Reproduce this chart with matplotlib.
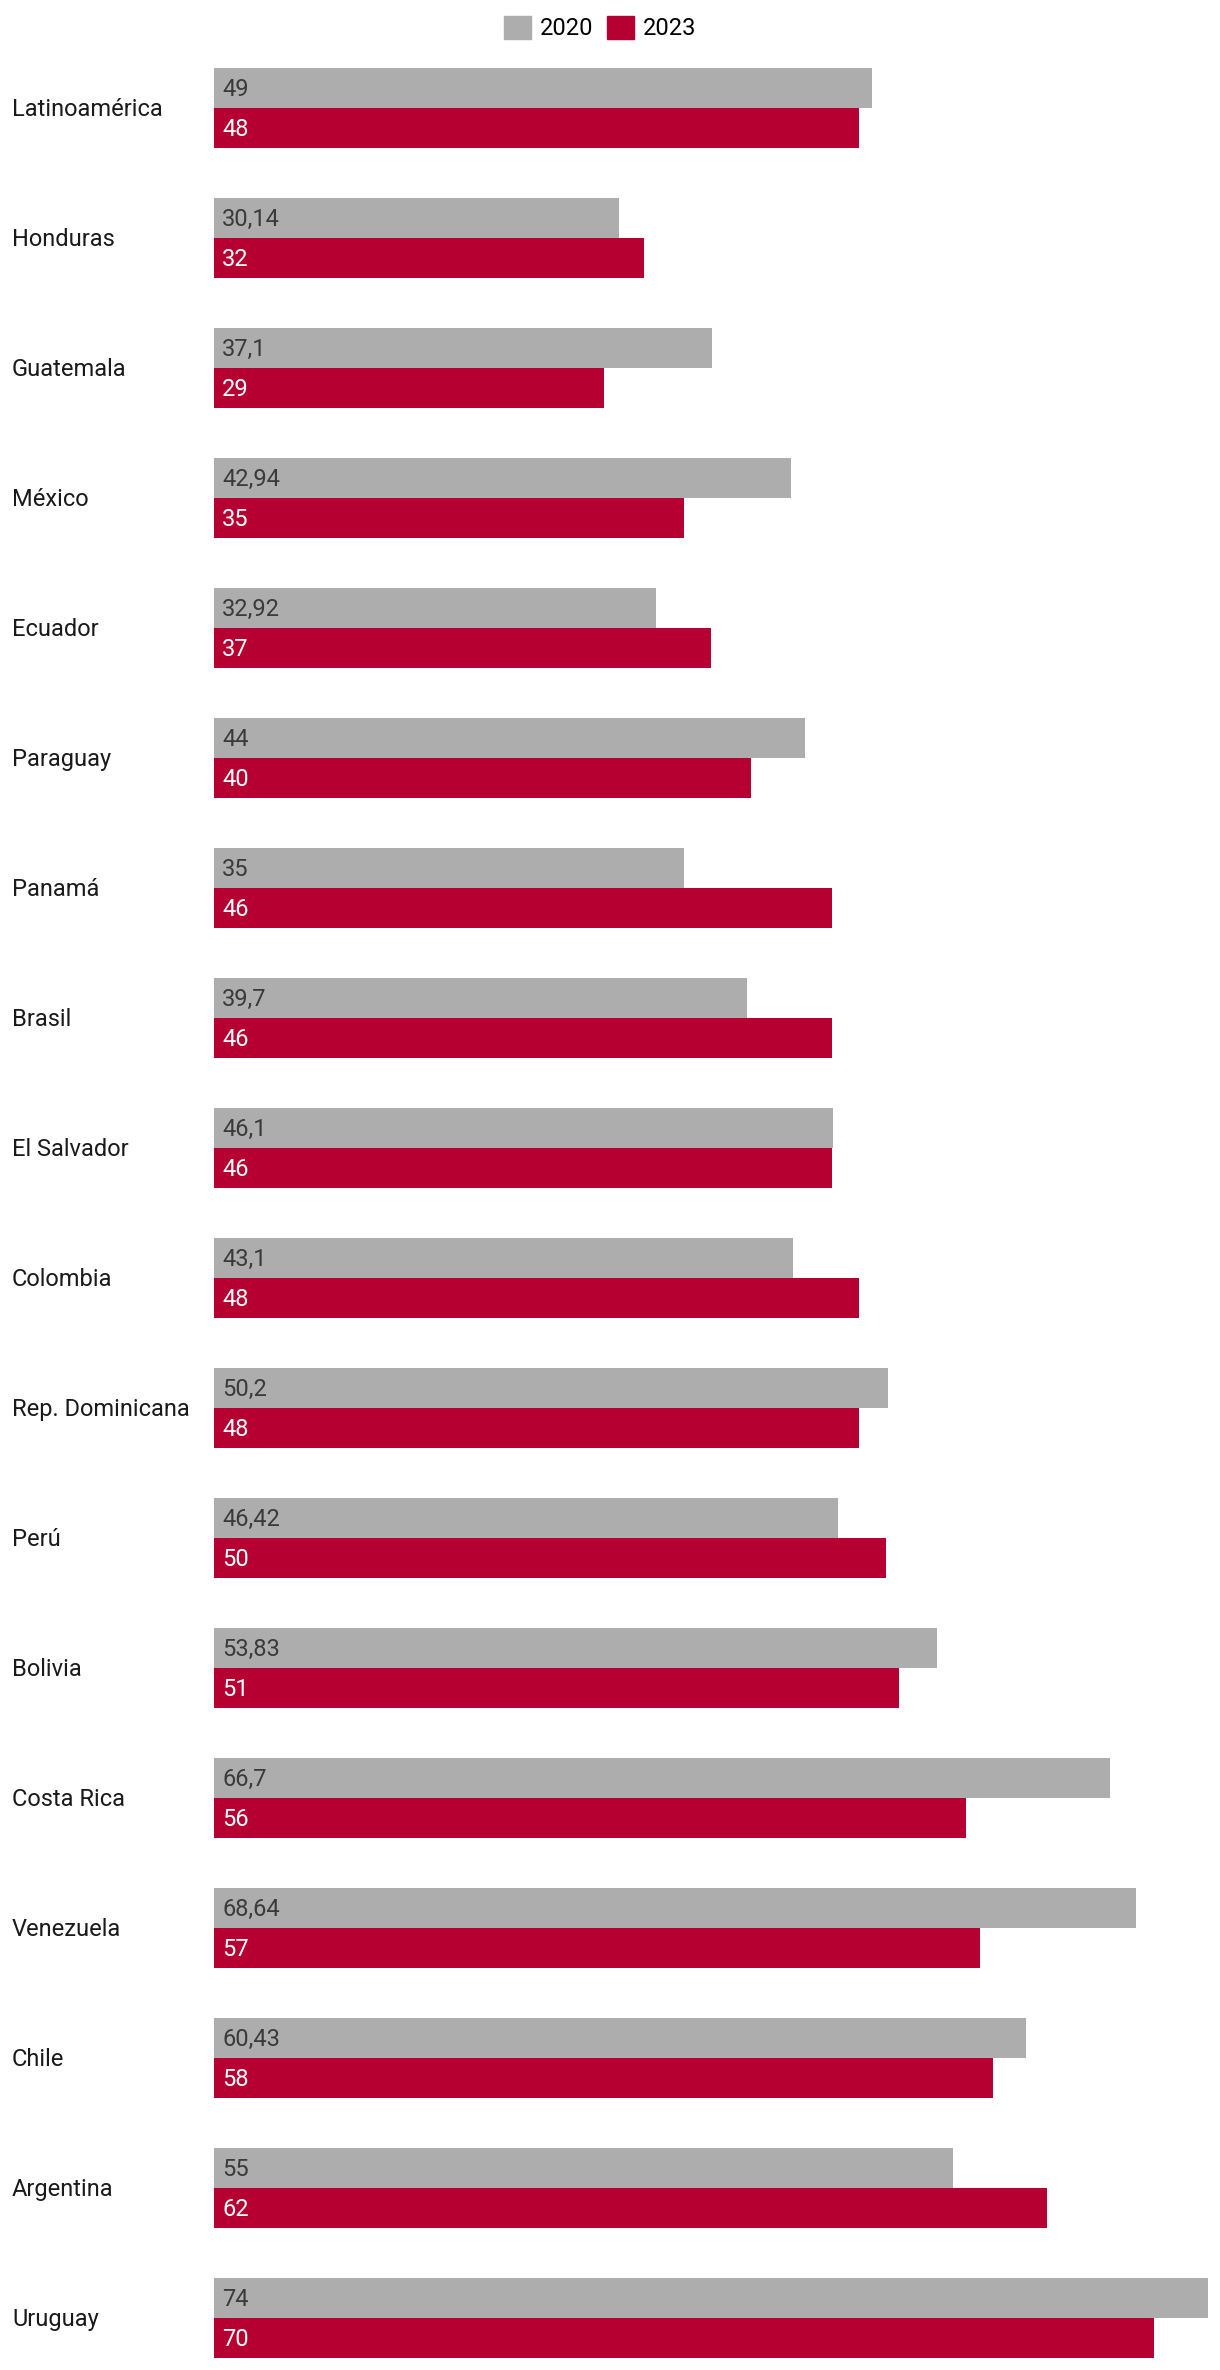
#!/usr/bin/env python3

import numpy as np
import matplotlib
matplotlib.use("Agg")
import matplotlib.pyplot as plt
from matplotlib.patches import Patch

# data.
countries = ["Latinoamérica", "Honduras", "Guatemala", "México", "Ecuador", "Paraguay",
             "Panamá", "Brasil", "El Salvador", "Colombia", "Rep. Dominicana", "Perú",
             "Bolivia", "Costa Rica", "Venezuela", "Chile", "Argentina", "Uruguay"]
vals_2020 = [49, 30.14, 37.1, 42.94, 32.92, 44, 35, 39.7, 46.1, 43.1, 50.2, 46.42,
             53.83, 66.7, 68.64, 60.43, 55, 74]
vals_2023 = [48, 32, 29, 35, 37, 40, 46, 46, 46, 48, 48, 50, 51, 56, 57, 58, 62, 70]
series_names = ["2020", "2023"]

GRAY = "#adadad"
RED = "#b50031"

plt.rcParams["font.family"] = ["Roboto", "DejaVu Sans"]

W, H = 1220, 2370
fig = plt.figure(figsize=(W / 100, H / 100), dpi=100)
# axes placed in pixel units of the output image.
left_px, right_px, top_px = 214, 1208, 43
ax = fig.add_axes([left_px / W, 0, (right_px - left_px) / W, 1 - top_px / H])

row_px = 130
bar_h = 40 / row_px
y = np.arange(len(countries))
xmax = 74
dy = 1.5 / row_px  # nudge text down a little

ax.barh(y - bar_h / 2, vals_2020, height=bar_h, color=GRAY, linewidth=0)
ax.barh(y + bar_h / 2, vals_2023, height=bar_h, color=RED, linewidth=0)

# value labels inside the bars.
def fmt(v):
    s = f"{v:g}"
    return s.replace(".", ",")

px = xmax / (right_px - left_px)
for i in range(len(countries)):
    ax.text(8 * px, y[i] - bar_h / 2 + dy, fmt(vals_2020[i]), va="center", ha="left",
            fontsize=17, color="#3a3a3a")
    ax.text(8 * px, y[i] + bar_h / 2 + dy, fmt(vals_2023[i]), va="center", ha="left",
            fontsize=17, color="white")
    # category labels at the left edge of the figure.
    ax.text(-(left_px - 12) * px, y[i] + dy, countries[i],
            va="center", ha="left", fontsize=17, color="#1a1a1a", clip_on=False)

ax.set_xlim(0, xmax)
ax.set_ylim(-0.5 + (H - top_px) / row_px, -0.5)
ax.axis("off")

# legend on top.
handles = [Patch(color=GRAY, label=series_names[0]), Patch(color=RED, label=series_names[1])]
fig.legend(handles=handles, loc="center", bbox_to_anchor=(600 / W, 1 - 28 / H), ncol=2,
           frameon=False, fontsize=17, handlelength=1.15, handleheight=1.15,
           handletextpad=0.35, columnspacing=0.6, borderaxespad=0)

fig.savefig("out.png", dpi=100)
